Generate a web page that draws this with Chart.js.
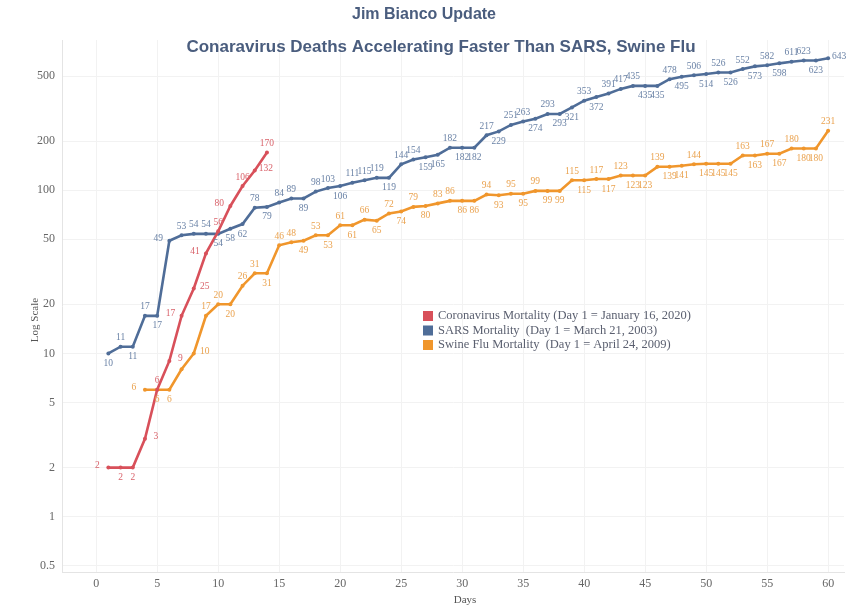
<!DOCTYPE html>
<html lang="en">
<head>
  <meta charset="UTF-8">
  <title>Jim Bianco Update</title>
  <script src="https://cdn.jsdelivr.net/npm/chart.js"></script>
  <style>
    body { margin: 0; background: #fff; }
  </style>
</head>
<body>
  <canvas id="chart" width="848" height="608"></canvas>

  <script>
	// data (cumulative deaths per day)
	const coronaStart = 1;
	const coronaDeaths = [2, 2, 2, 3, 6, 9, 17, 25, 41, 56, 80, 106, 132, 170];

	const sarsStart = 1;
	const sarsDeaths = [
		10, 11, 11, 17, 17, 49, 53, 54, 54, 54,
		58, 62, 78, 79, 84, 89, 89, 98, 103, 106,
		111, 115, 119, 119, 144, 154, 159, 165, 182, 182,
		182, 217, 229, 251, 263, 274, 293, 293, 321, 353,
		372, 391, 417, 435, 435, 435, 478, 495, 506, 514,
		526, 526, 552, 573, 582, 598, 611, 623, 623, 643
	];

	const swineStart = 4;
	const swineDeaths = [
		6, 6, 6, 8, 10, 17, 20,
		20, 26, 31, 31, 46, 48, 49, 53, 53, 61,
		61, 66, 65, 72, 74, 79, 80, 83, 86, 86,
		86, 94, 93, 95, 95, 99, 99, 99, 115, 115,
		117, 117, 123, 123, 123, 139, 139, 141, 144, 145,
		145, 145, 163, 163, 167, 167, 180, 180, 180, 231
	];

	const seriesNames = [
		'Coronavirus Mortality (Day 1 = January 16, 2020)',
		'SARS Mortality  (Day 1 = March 21, 2003)',
		'Swine Flu Mortality  (Day 1 = April 24, 2009)'
	];

	const xTicks = [0, 5, 10, 15, 20, 25, 30, 35, 40, 45, 50, 55, 60];
	const yTicks = [0.5, 1, 2, 5, 10, 20, 50, 100, 200, 500];

	// where each value label sits: a = above, b = below, l = left, r = right, n = none
	const coronaLabelPos = 'lbbrarlrlalara';
	const sarsLabelPos = 'babablaaab' + 'bbabaabaab' + 'aaabaabbab' + 'babaababba' + 'baaabbabab' + 'abababaabr';
	const swineLabelPos = 'lbbnraa' + 'baabaababa' + 'babababaab' + 'babababbab' + 'ababbabbab' + 'bbabababba';

	const RED = '#d8505a';
	const BLUE = '#4f6d98';
	const ORANGE = '#f0962c';
	const SERIF = '"Liberation Serif", "DejaVu Serif", serif';
	const SANS = '"Liberation Sans", Arial, sans-serif';

	function toPoints(start, values) {
		return values.map((v, i) => ({ x: start + i, y: v }));
	}

	function lineSet(label, start, values, color, labelColor, pos) {
		return {
			label: label,
			data: toPoints(start, values),
			borderColor: color,
			backgroundColor: color,
			borderWidth: 2.6,
			pointRadius: 2,
			pointBorderWidth: 0,
			pointBackgroundColor: color,
			tension: 0,
			labelColor: labelColor,
			labelPos: pos
		};
	}

	// value labels next to every point
	const valueLabels = {
		id: 'valueLabels',
		afterDatasetsDraw(chart) {
			const ctx = chart.ctx;
			ctx.save();
			ctx.font = '9.5px ' + SERIF;
			ctx.textAlign = 'center';
			ctx.textBaseline = 'middle';
			chart.data.datasets.forEach((ds, di) => {
				const meta = chart.getDatasetMeta(di);
				ctx.fillStyle = ds.labelColor;
				meta.data.forEach((pt, i) => {
					const p = ds.labelPos[i] || 'a';
					if (p === 'n') return;
					let x = pt.x, y = pt.y;
					if (p === 'a') y -= 9;
					if (p === 'b') y += 10;
					if (p === 'l') { x -= 11; y -= 2; }
					if (p === 'r') { x += 11; y -= 2; }
					ctx.fillText(String(ds.data[i].y), x, y);
				});
			});
			ctx.restore();
		}
	};

	// titles, axis titles and the legend box
	const decorations = {
		id: 'decorations',
		afterDraw(chart) {
			const ctx = chart.ctx;
			ctx.save();
			ctx.fillStyle = '#4a5d7e';
			ctx.textAlign = 'center';
			ctx.textBaseline = 'middle';
			ctx.font = 'bold 16px ' + SANS;
			ctx.fillText('Jim Bianco Update', 424, 15);
			ctx.font = 'bold 17px ' + SANS;
			ctx.fillText('Conaravirus Deaths Accelerating Faster Than SARS, Swine Flu', 441, 47);

			ctx.fillStyle = '#555';
			ctx.font = '11px ' + SERIF;
			ctx.fillText('Days', 465, 600);
			ctx.save();
			ctx.translate(35, 320);
			ctx.rotate(-Math.PI / 2);
			ctx.fillText('Log Scale', 0, 0);
			ctx.restore();

			// legend
			ctx.textAlign = 'left';
			ctx.font = '12.5px ' + SERIF;
			chart.data.datasets.forEach((ds, i) => {
				const y = 316 + i * 14.5;
				ctx.fillStyle = ds.borderColor;
				ctx.fillRect(423, y - 5, 10, 10);
				ctx.fillStyle = '#5b6070';
				ctx.fillText(ds.label, 438, y);
			});
			ctx.restore();
		}
	};

	const ctx = document.getElementById('chart').getContext('2d');

	new Chart(ctx, {
		type: 'line',
		data: {
			datasets: [
				lineSet(seriesNames[0], coronaStart, coronaDeaths, RED, '#d9636b', coronaLabelPos),
				lineSet(seriesNames[1], sarsStart, sarsDeaths, BLUE, '#6a82a6', sarsLabelPos),
				lineSet(seriesNames[2], swineStart, swineDeaths, ORANGE, '#eaa24e', swineLabelPos)
			]
		},
		options: {
			responsive: false,
			animation: false,
			layout: { padding: { top: 40, right: 3, left: 0, bottom: 0 } },
			plugins: {
				legend: { display: false },
				tooltip: { enabled: false }
			},
			scales: {
				x: {
					type: 'linear',
					min: -2.8,
					max: 61.3,
					afterBuildTicks: s => { s.ticks = xTicks.map(v => ({ value: v })); },
					afterFit: s => { s.height = 36; },
					grid: { color: '#f2f2f2', drawTicks: false },
					border: { color: '#e4e4e4' },
					ticks: { padding: 5, color: '#666', font: { family: SERIF, size: 12 } }
				},
				y: {
					type: 'logarithmic',
					min: 0.459,
					max: 831,
					afterBuildTicks: s => { s.ticks = yTicks.map(v => ({ value: v })); },
					afterFit: s => { s.width = 62; },
					grid: { color: '#f2f2f2', drawTicks: false },
					border: { color: '#e4e4e4' },
					ticks: {
						padding: 7,
						color: '#666',
						font: { family: SERIF, size: 12 },
						callback: v => String(v)
					}
				}
			}
		},
		plugins: [valueLabels, decorations]
	});
  </script>
</body>
</html>
